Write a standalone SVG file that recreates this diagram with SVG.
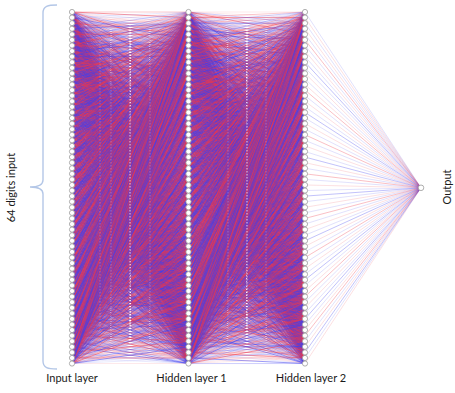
<svg xmlns="http://www.w3.org/2000/svg" xmlns:xlink="http://www.w3.org/1999/xlink" width="455" height="393" viewBox="0 0 455 393">
<style>
.fan path,.c path{fill:none;stroke-width:.8;vector-effect:non-scaling-stroke;stroke-linecap:butt}
.rs{stroke:#ee3848;stroke-opacity:.66}
.bs{stroke:#4040ee;stroke-opacity:.66}
.rm{stroke:#ee3848;stroke-opacity:.33}
.bm{stroke:#4040ee;stroke-opacity:.33}
.rf{stroke:#ee3848;stroke-opacity:.14}
.bf{stroke:#4040ee;stroke-opacity:.14}
.ro{stroke:#ee3848;stroke-opacity:.4}
.bo{stroke:#4040ee;stroke-opacity:.4}
.rq{stroke:#ee3848;stroke-opacity:.2}
.bq{stroke:#4040ee;stroke-opacity:.2}
.n circle{fill:#fff;stroke:#9a9a9a;stroke-width:.8}
.art line{stroke:#fff;stroke-width:1;stroke-dasharray:1.5 1.5}
text{font-family:Lato,"Open Sans","Liberation Sans",sans-serif;font-size:11px;fill:#1a1a1a}
</style>
<defs>
<g id="f0" class="fan">
<path class="rf" d="M0 0L1 39M0 0L1 4M0 0L1 33M0 0L1 62M0 0L1 27M0 0L1 56M0 0L1 21M0 0L1 50M0 0L1 15M0 0L1 44M0 0L1 9M0 0L1 38M0 0L1 3M0 0L1 32M0 0L1 61M0 0L1 26"/>
<path class="bf" d="M0 0L1 55M0 0L1 20M0 0L1 49M0 0L1 14M0 0L1 43M0 0L1 8M0 0L1 37M0 0L1 2M0 0L1 31M0 0L1 60M0 0L1 25M0 0L1 54M0 0L1 19M0 0L1 48M0 0L1 13M0 0L1 42"/>
<path class="rm" d="M0 0L1 41M0 0L1 6M0 0L1 35M0 0L1 0M0 0L1 29M0 0L1 58M0 0L1 23M0 0L1 52M0 0L1 17M0 0L1 46M0 0L1 11"/>
<path class="bm" d="M0 0L1 40M0 0L1 5M0 0L1 34M0 0L1 63M0 0L1 28M0 0L1 57M0 0L1 22M0 0L1 51M0 0L1 16M0 0L1 45M0 0L1 10"/>
<path class="rs" d="M0 0L1 7M0 0L1 36M0 0L1 1M0 0L1 30M0 0L1 59"/>
<path class="bs" d="M0 0L1 24M0 0L1 53M0 0L1 18M0 0L1 47M0 0L1 12"/>
</g>
<g id="f1" class="fan">
<path class="rf" d="M0 0L1 55M0 0L1 20M0 0L1 49M0 0L1 14M0 0L1 43M0 0L1 8M0 0L1 37M0 0L1 2M0 0L1 31M0 0L1 60M0 0L1 25M0 0L1 54M0 0L1 19M0 0L1 48M0 0L1 13M0 0L1 42"/>
<path class="bf" d="M0 0L1 7M0 0L1 36M0 0L1 1M0 0L1 30M0 0L1 59M0 0L1 24M0 0L1 53M0 0L1 18M0 0L1 47M0 0L1 12M0 0L1 41M0 0L1 6M0 0L1 35M0 0L1 0M0 0L1 29M0 0L1 58"/>
<path class="rm" d="M0 0L1 57M0 0L1 22M0 0L1 51M0 0L1 16M0 0L1 45M0 0L1 10M0 0L1 39M0 0L1 4M0 0L1 33M0 0L1 62M0 0L1 27"/>
<path class="bm" d="M0 0L1 56M0 0L1 21M0 0L1 50M0 0L1 15M0 0L1 44M0 0L1 9M0 0L1 38M0 0L1 3M0 0L1 32M0 0L1 61M0 0L1 26"/>
<path class="rs" d="M0 0L1 23M0 0L1 52M0 0L1 17M0 0L1 46M0 0L1 11"/>
<path class="bs" d="M0 0L1 40M0 0L1 5M0 0L1 34M0 0L1 63M0 0L1 28"/>
</g>
<g id="f2" class="fan">
<path class="rf" d="M0 0L1 7M0 0L1 36M0 0L1 1M0 0L1 30M0 0L1 59M0 0L1 24M0 0L1 53M0 0L1 18M0 0L1 47M0 0L1 12M0 0L1 41M0 0L1 6M0 0L1 35M0 0L1 0M0 0L1 29M0 0L1 58"/>
<path class="bf" d="M0 0L1 23M0 0L1 52M0 0L1 17M0 0L1 46M0 0L1 11M0 0L1 40M0 0L1 5M0 0L1 34M0 0L1 63M0 0L1 28M0 0L1 57M0 0L1 22M0 0L1 51M0 0L1 16M0 0L1 45M0 0L1 10"/>
<path class="rm" d="M0 0L1 9M0 0L1 38M0 0L1 3M0 0L1 32M0 0L1 61M0 0L1 26M0 0L1 55M0 0L1 20M0 0L1 49M0 0L1 14M0 0L1 43"/>
<path class="bm" d="M0 0L1 8M0 0L1 37M0 0L1 2M0 0L1 31M0 0L1 60M0 0L1 25M0 0L1 54M0 0L1 19M0 0L1 48M0 0L1 13M0 0L1 42"/>
<path class="rs" d="M0 0L1 39M0 0L1 4M0 0L1 33M0 0L1 62M0 0L1 27"/>
<path class="bs" d="M0 0L1 56M0 0L1 21M0 0L1 50M0 0L1 15M0 0L1 44"/>
</g>
<g id="f3" class="fan">
<path class="rf" d="M0 0L1 23M0 0L1 52M0 0L1 17M0 0L1 46M0 0L1 11M0 0L1 40M0 0L1 5M0 0L1 34M0 0L1 63M0 0L1 28M0 0L1 57M0 0L1 22M0 0L1 51M0 0L1 16M0 0L1 45M0 0L1 10"/>
<path class="bf" d="M0 0L1 39M0 0L1 4M0 0L1 33M0 0L1 62M0 0L1 27M0 0L1 56M0 0L1 21M0 0L1 50M0 0L1 15M0 0L1 44M0 0L1 9M0 0L1 38M0 0L1 3M0 0L1 32M0 0L1 61M0 0L1 26"/>
<path class="rm" d="M0 0L1 25M0 0L1 54M0 0L1 19M0 0L1 48M0 0L1 13M0 0L1 42M0 0L1 7M0 0L1 36M0 0L1 1M0 0L1 30M0 0L1 59"/>
<path class="bm" d="M0 0L1 24M0 0L1 53M0 0L1 18M0 0L1 47M0 0L1 12M0 0L1 41M0 0L1 6M0 0L1 35M0 0L1 0M0 0L1 29M0 0L1 58"/>
<path class="rs" d="M0 0L1 55M0 0L1 20M0 0L1 49M0 0L1 14M0 0L1 43"/>
<path class="bs" d="M0 0L1 8M0 0L1 37M0 0L1 2M0 0L1 31M0 0L1 60"/>
</g>
</defs>

<g id="connectors" class="c">
<g id="input-to-hidden1" transform="translate(72 12) scale(116.5 5.58)">
<use href="#f0"/>
<use href="#f1" transform="matrix(1 -1 0 1 0 1)"/>
<use href="#f2" transform="matrix(1 -2 0 1 0 2)"/>
<use href="#f3" transform="matrix(1 -3 0 1 0 3)"/>
<use href="#f2" transform="matrix(1 -4 0 1 0 4)"/>
<use href="#f3" transform="matrix(1 -5 0 1 0 5)"/>
<use href="#f0" transform="matrix(1 -6 0 1 0 6)"/>
<use href="#f1" transform="matrix(1 -7 0 1 0 7)"/>
<use href="#f3" transform="matrix(1 -8 0 1 0 8)"/>
<use href="#f1" transform="matrix(1 -9 0 1 0 9)"/>
<use href="#f0" transform="matrix(1 -10 0 1 0 10)"/>
<use href="#f2" transform="matrix(1 -11 0 1 0 11)"/>
<use href="#f1" transform="matrix(1 -12 0 1 0 12)"/>
<use href="#f3" transform="matrix(1 -13 0 1 0 13)"/>
<use href="#f2" transform="matrix(1 -14 0 1 0 14)"/>
<use href="#f0" transform="matrix(1 -15 0 1 0 15)"/>
<use href="#f2" transform="matrix(1 -16 0 1 0 16)"/>
<use href="#f0" transform="matrix(1 -17 0 1 0 17)"/>
<use href="#f1" transform="matrix(1 -18 0 1 0 18)"/>
<use href="#f3" transform="matrix(1 -19 0 1 0 19)"/>
<use href="#f0" transform="matrix(1 -20 0 1 0 20)"/>
<use href="#f2" transform="matrix(1 -21 0 1 0 21)"/>
<use href="#f3" transform="matrix(1 -22 0 1 0 22)"/>
<use href="#f1" transform="matrix(1 -23 0 1 0 23)"/>
<use href="#f1" transform="matrix(1 -24 0 1 0 24)"/>
<use href="#f0" transform="matrix(1 -25 0 1 0 25)"/>
<use href="#f3" transform="matrix(1 -26 0 1 0 26)"/>
<use href="#f2" transform="matrix(1 -27 0 1 0 27)"/>
<use href="#f3" transform="matrix(1 -28 0 1 0 28)"/>
<use href="#f2" transform="matrix(1 -29 0 1 0 29)"/>
<use href="#f1" transform="matrix(1 -30 0 1 0 30)"/>
<use href="#f0" transform="matrix(1 -31 0 1 0 31)"/>
<use href="#f0" transform="matrix(1 -32 0 1 0 32)"/>
<use href="#f3" transform="matrix(1 -33 0 1 0 33)"/>
<use href="#f1" transform="matrix(1 -34 0 1 0 34)"/>
<use href="#f2" transform="matrix(1 -35 0 1 0 35)"/>
<use href="#f2" transform="matrix(1 -36 0 1 0 36)"/>
<use href="#f1" transform="matrix(1 -37 0 1 0 37)"/>
<use href="#f3" transform="matrix(1 -38 0 1 0 38)"/>
<use href="#f0" transform="matrix(1 -39 0 1 0 39)"/>
<use href="#f1" transform="matrix(1 -40 0 1 0 40)"/>
<use href="#f2" transform="matrix(1 -41 0 1 0 41)"/>
<use href="#f0" transform="matrix(1 -42 0 1 0 42)"/>
<use href="#f3" transform="matrix(1 -43 0 1 0 43)"/>
<use href="#f3" transform="matrix(1 -44 0 1 0 44)"/>
<use href="#f0" transform="matrix(1 -45 0 1 0 45)"/>
<use href="#f2" transform="matrix(1 -46 0 1 0 46)"/>
<use href="#f1" transform="matrix(1 -47 0 1 0 47)"/>
<use href="#f2" transform="matrix(1 -48 0 1 0 48)"/>
<use href="#f3" transform="matrix(1 -49 0 1 0 49)"/>
<use href="#f1" transform="matrix(1 -50 0 1 0 50)"/>
<use href="#f0" transform="matrix(1 -51 0 1 0 51)"/>
<use href="#f0" transform="matrix(1 -52 0 1 0 52)"/>
<use href="#f1" transform="matrix(1 -53 0 1 0 53)"/>
<use href="#f3" transform="matrix(1 -54 0 1 0 54)"/>
<use href="#f2" transform="matrix(1 -55 0 1 0 55)"/>
<use href="#f3" transform="matrix(1 -56 0 1 0 56)"/>
<use href="#f2" transform="matrix(1 -57 0 1 0 57)"/>
<use href="#f0" transform="matrix(1 -58 0 1 0 58)"/>
<use href="#f1" transform="matrix(1 -59 0 1 0 59)"/>
<use href="#f1" transform="matrix(1 -60 0 1 0 60)"/>
<use href="#f0" transform="matrix(1 -61 0 1 0 61)"/>
<use href="#f2" transform="matrix(1 -62 0 1 0 62)"/>
<use href="#f3" transform="matrix(1 -63 0 1 0 63)"/>
</g>
<g id="hidden1-to-hidden2" transform="translate(188.5 12) scale(116.5 5.58)">
<use href="#f2"/>
<use href="#f0" transform="matrix(1 -1 0 1 0 1)"/>
<use href="#f3" transform="matrix(1 -2 0 1 0 2)"/>
<use href="#f1" transform="matrix(1 -3 0 1 0 3)"/>
<use href="#f1" transform="matrix(1 -4 0 1 0 4)"/>
<use href="#f3" transform="matrix(1 -5 0 1 0 5)"/>
<use href="#f0" transform="matrix(1 -6 0 1 0 6)"/>
<use href="#f2" transform="matrix(1 -7 0 1 0 7)"/>
<use href="#f0" transform="matrix(1 -8 0 1 0 8)"/>
<use href="#f2" transform="matrix(1 -9 0 1 0 9)"/>
<use href="#f1" transform="matrix(1 -10 0 1 0 10)"/>
<use href="#f3" transform="matrix(1 -11 0 1 0 11)"/>
<use href="#f3" transform="matrix(1 -12 0 1 0 12)"/>
<use href="#f1" transform="matrix(1 -13 0 1 0 13)"/>
<use href="#f2" transform="matrix(1 -14 0 1 0 14)"/>
<use href="#f0" transform="matrix(1 -15 0 1 0 15)"/>
<use href="#f1" transform="matrix(1 -16 0 1 0 16)"/>
<use href="#f2" transform="matrix(1 -17 0 1 0 17)"/>
<use href="#f3" transform="matrix(1 -18 0 1 0 18)"/>
<use href="#f0" transform="matrix(1 -19 0 1 0 19)"/>
<use href="#f2" transform="matrix(1 -20 0 1 0 20)"/>
<use href="#f1" transform="matrix(1 -21 0 1 0 21)"/>
<use href="#f0" transform="matrix(1 -22 0 1 0 22)"/>
<use href="#f3" transform="matrix(1 -23 0 1 0 23)"/>
<use href="#f3" transform="matrix(1 -24 0 1 0 24)"/>
<use href="#f0" transform="matrix(1 -25 0 1 0 25)"/>
<use href="#f1" transform="matrix(1 -26 0 1 0 26)"/>
<use href="#f2" transform="matrix(1 -27 0 1 0 27)"/>
<use href="#f0" transform="matrix(1 -28 0 1 0 28)"/>
<use href="#f3" transform="matrix(1 -29 0 1 0 29)"/>
<use href="#f2" transform="matrix(1 -30 0 1 0 30)"/>
<use href="#f1" transform="matrix(1 -31 0 1 0 31)"/>
<use href="#f2" transform="matrix(1 -32 0 1 0 32)"/>
<use href="#f3" transform="matrix(1 -33 0 1 0 33)"/>
<use href="#f0" transform="matrix(1 -34 0 1 0 34)"/>
<use href="#f1" transform="matrix(1 -35 0 1 0 35)"/>
<use href="#f1" transform="matrix(1 -36 0 1 0 36)"/>
<use href="#f0" transform="matrix(1 -37 0 1 0 37)"/>
<use href="#f3" transform="matrix(1 -38 0 1 0 38)"/>
<use href="#f2" transform="matrix(1 -39 0 1 0 39)"/>
<use href="#f3" transform="matrix(1 -40 0 1 0 40)"/>
<use href="#f1" transform="matrix(1 -41 0 1 0 41)"/>
<use href="#f2" transform="matrix(1 -42 0 1 0 42)"/>
<use href="#f0" transform="matrix(1 -43 0 1 0 43)"/>
<use href="#f0" transform="matrix(1 -44 0 1 0 44)"/>
<use href="#f2" transform="matrix(1 -45 0 1 0 45)"/>
<use href="#f1" transform="matrix(1 -46 0 1 0 46)"/>
<use href="#f3" transform="matrix(1 -47 0 1 0 47)"/>
<use href="#f1" transform="matrix(1 -48 0 1 0 48)"/>
<use href="#f3" transform="matrix(1 -49 0 1 0 49)"/>
<use href="#f0" transform="matrix(1 -50 0 1 0 50)"/>
<use href="#f2" transform="matrix(1 -51 0 1 0 51)"/>
<use href="#f2" transform="matrix(1 -52 0 1 0 52)"/>
<use href="#f0" transform="matrix(1 -53 0 1 0 53)"/>
<use href="#f3" transform="matrix(1 -54 0 1 0 54)"/>
<use href="#f1" transform="matrix(1 -55 0 1 0 55)"/>
<use href="#f0" transform="matrix(1 -56 0 1 0 56)"/>
<use href="#f1" transform="matrix(1 -57 0 1 0 57)"/>
<use href="#f2" transform="matrix(1 -58 0 1 0 58)"/>
<use href="#f3" transform="matrix(1 -59 0 1 0 59)"/>
<use href="#f3" transform="matrix(1 -60 0 1 0 60)"/>
<use href="#f2" transform="matrix(1 -61 0 1 0 61)"/>
<use href="#f1" transform="matrix(1 -62 0 1 0 62)"/>
<use href="#f0" transform="matrix(1 -63 0 1 0 63)"/>
</g>
<g id="hidden2-to-output" transform="translate(305 12) scale(116 5.58)">
<path class="bq" d="M0 0L1 31.5M0 2L1 31.5M0 4L1 31.5M0 6L1 31.5M0 8L1 31.5M0 10L1 31.5M0 12L1 31.5M0 15L1 31.5M0 17L1 31.5M0 19L1 31.5M0 21L1 31.5M0 23L1 31.5M0 25L1 31.5M0 28L1 31.5M0 30L1 31.5M0 32L1 31.5M0 34L1 31.5M0 36L1 31.5M0 38L1 31.5M0 40L1 31.5M0 43L1 31.5M0 45L1 31.5M0 47L1 31.5M0 49L1 31.5M0 52L1 31.5M0 54L1 31.5M0 56L1 31.5M0 59L1 31.5M0 62L1 31.5"/>
<path class="rq" d="M0 1L1 31.5M0 3L1 31.5M0 7L1 31.5M0 11L1 31.5M0 13L1 31.5M0 16L1 31.5M0 20L1 31.5M0 24L1 31.5M0 27L1 31.5M0 31L1 31.5M0 35L1 31.5M0 39L1 31.5M0 42L1 31.5M0 46L1 31.5M0 50L1 31.5M0 53L1 31.5M0 57L1 31.5M0 60L1 31.5M0 63L1 31.5"/>
<path class="ro" d="M0 5L1 31.5M0 14L1 31.5M0 22L1 31.5M0 29L1 31.5M0 37L1 31.5M0 44L1 31.5M0 51L1 31.5M0 58L1 31.5"/>
<path class="bo" d="M0 9L1 31.5M0 18L1 31.5M0 26L1 31.5M0 33L1 31.5M0 41L1 31.5M0 48L1 31.5M0 55L1 31.5M0 61L1 31.5"/>
</g>
</g>

<g class="art" id="artifacts">
<line x1="130" y1="24" x2="130" y2="345" stroke-opacity=".75"/>
<line x1="100" y1="40" x2="100" y2="330" stroke-opacity=".22"/>
<line x1="111" y1="30" x2="111" y2="340" stroke-opacity=".25"/>
<line x1="150" y1="30" x2="150" y2="340" stroke-opacity=".25"/>
<line x1="247" y1="24" x2="247" y2="345" stroke-opacity=".75"/>
<line x1="228" y1="30" x2="228" y2="340" stroke-opacity=".25"/>
<line x1="266" y1="30" x2="266" y2="340" stroke-opacity=".25"/>
</g>

<path id="brace" d="M57 5C48 5 43 6 43 13V180C43 185 39 187 30 187C39 187 43 189 43 194V361C43 368 48 369 57 369" fill="none" stroke="#b4c7e7" stroke-width="1.4"/>

<g id="input-layer" class="n" transform="translate(72 0)">
<circle id="in0" cy="12" r="2.6"/><circle id="in1" cy="17.58" r="2.6"/><circle id="in2" cy="23.16" r="2.6"/><circle id="in3" cy="28.74" r="2.6"/><circle id="in4" cy="34.32" r="2.6"/><circle id="in5" cy="39.9" r="2.6"/><circle id="in6" cy="45.48" r="2.6"/><circle id="in7" cy="51.06" r="2.6"/><circle id="in8" cy="56.64" r="2.6"/><circle id="in9" cy="62.22" r="2.6"/><circle id="in10" cy="67.8" r="2.6"/><circle id="in11" cy="73.38" r="2.6"/><circle id="in12" cy="78.96" r="2.6"/><circle id="in13" cy="84.54" r="2.6"/><circle id="in14" cy="90.12" r="2.6"/><circle id="in15" cy="95.7" r="2.6"/><circle id="in16" cy="101.28" r="2.6"/><circle id="in17" cy="106.86" r="2.6"/><circle id="in18" cy="112.44" r="2.6"/><circle id="in19" cy="118.02" r="2.6"/><circle id="in20" cy="123.6" r="2.6"/><circle id="in21" cy="129.18" r="2.6"/><circle id="in22" cy="134.76" r="2.6"/><circle id="in23" cy="140.34" r="2.6"/><circle id="in24" cy="145.92" r="2.6"/><circle id="in25" cy="151.5" r="2.6"/><circle id="in26" cy="157.08" r="2.6"/><circle id="in27" cy="162.66" r="2.6"/><circle id="in28" cy="168.24" r="2.6"/><circle id="in29" cy="173.82" r="2.6"/><circle id="in30" cy="179.4" r="2.6"/><circle id="in31" cy="184.98" r="2.6"/><circle id="in32" cy="190.56" r="2.6"/><circle id="in33" cy="196.14" r="2.6"/><circle id="in34" cy="201.72" r="2.6"/><circle id="in35" cy="207.3" r="2.6"/><circle id="in36" cy="212.88" r="2.6"/><circle id="in37" cy="218.46" r="2.6"/><circle id="in38" cy="224.04" r="2.6"/><circle id="in39" cy="229.62" r="2.6"/><circle id="in40" cy="235.2" r="2.6"/><circle id="in41" cy="240.78" r="2.6"/><circle id="in42" cy="246.36" r="2.6"/><circle id="in43" cy="251.94" r="2.6"/><circle id="in44" cy="257.52" r="2.6"/><circle id="in45" cy="263.1" r="2.6"/><circle id="in46" cy="268.68" r="2.6"/><circle id="in47" cy="274.26" r="2.6"/><circle id="in48" cy="279.84" r="2.6"/><circle id="in49" cy="285.42" r="2.6"/><circle id="in50" cy="291" r="2.6"/><circle id="in51" cy="296.58" r="2.6"/><circle id="in52" cy="302.16" r="2.6"/><circle id="in53" cy="307.74" r="2.6"/><circle id="in54" cy="313.32" r="2.6"/><circle id="in55" cy="318.9" r="2.6"/><circle id="in56" cy="324.48" r="2.6"/><circle id="in57" cy="330.06" r="2.6"/><circle id="in58" cy="335.64" r="2.6"/><circle id="in59" cy="341.22" r="2.6"/><circle id="in60" cy="346.8" r="2.6"/><circle id="in61" cy="352.38" r="2.6"/><circle id="in62" cy="357.96" r="2.6"/><circle id="in63" cy="363.54" r="2.6"/>
</g>
<g id="hidden-layer-1" class="n" transform="translate(188.5 0)">
<circle id="ha0" cy="12" r="2.6"/><circle id="ha1" cy="17.58" r="2.6"/><circle id="ha2" cy="23.16" r="2.6"/><circle id="ha3" cy="28.74" r="2.6"/><circle id="ha4" cy="34.32" r="2.6"/><circle id="ha5" cy="39.9" r="2.6"/><circle id="ha6" cy="45.48" r="2.6"/><circle id="ha7" cy="51.06" r="2.6"/><circle id="ha8" cy="56.64" r="2.6"/><circle id="ha9" cy="62.22" r="2.6"/><circle id="ha10" cy="67.8" r="2.6"/><circle id="ha11" cy="73.38" r="2.6"/><circle id="ha12" cy="78.96" r="2.6"/><circle id="ha13" cy="84.54" r="2.6"/><circle id="ha14" cy="90.12" r="2.6"/><circle id="ha15" cy="95.7" r="2.6"/><circle id="ha16" cy="101.28" r="2.6"/><circle id="ha17" cy="106.86" r="2.6"/><circle id="ha18" cy="112.44" r="2.6"/><circle id="ha19" cy="118.02" r="2.6"/><circle id="ha20" cy="123.6" r="2.6"/><circle id="ha21" cy="129.18" r="2.6"/><circle id="ha22" cy="134.76" r="2.6"/><circle id="ha23" cy="140.34" r="2.6"/><circle id="ha24" cy="145.92" r="2.6"/><circle id="ha25" cy="151.5" r="2.6"/><circle id="ha26" cy="157.08" r="2.6"/><circle id="ha27" cy="162.66" r="2.6"/><circle id="ha28" cy="168.24" r="2.6"/><circle id="ha29" cy="173.82" r="2.6"/><circle id="ha30" cy="179.4" r="2.6"/><circle id="ha31" cy="184.98" r="2.6"/><circle id="ha32" cy="190.56" r="2.6"/><circle id="ha33" cy="196.14" r="2.6"/><circle id="ha34" cy="201.72" r="2.6"/><circle id="ha35" cy="207.3" r="2.6"/><circle id="ha36" cy="212.88" r="2.6"/><circle id="ha37" cy="218.46" r="2.6"/><circle id="ha38" cy="224.04" r="2.6"/><circle id="ha39" cy="229.62" r="2.6"/><circle id="ha40" cy="235.2" r="2.6"/><circle id="ha41" cy="240.78" r="2.6"/><circle id="ha42" cy="246.36" r="2.6"/><circle id="ha43" cy="251.94" r="2.6"/><circle id="ha44" cy="257.52" r="2.6"/><circle id="ha45" cy="263.1" r="2.6"/><circle id="ha46" cy="268.68" r="2.6"/><circle id="ha47" cy="274.26" r="2.6"/><circle id="ha48" cy="279.84" r="2.6"/><circle id="ha49" cy="285.42" r="2.6"/><circle id="ha50" cy="291" r="2.6"/><circle id="ha51" cy="296.58" r="2.6"/><circle id="ha52" cy="302.16" r="2.6"/><circle id="ha53" cy="307.74" r="2.6"/><circle id="ha54" cy="313.32" r="2.6"/><circle id="ha55" cy="318.9" r="2.6"/><circle id="ha56" cy="324.48" r="2.6"/><circle id="ha57" cy="330.06" r="2.6"/><circle id="ha58" cy="335.64" r="2.6"/><circle id="ha59" cy="341.22" r="2.6"/><circle id="ha60" cy="346.8" r="2.6"/><circle id="ha61" cy="352.38" r="2.6"/><circle id="ha62" cy="357.96" r="2.6"/><circle id="ha63" cy="363.54" r="2.6"/>
</g>
<g id="hidden-layer-2" class="n" transform="translate(305 0)">
<circle id="hb0" cy="12" r="2.6"/><circle id="hb1" cy="17.58" r="2.6"/><circle id="hb2" cy="23.16" r="2.6"/><circle id="hb3" cy="28.74" r="2.6"/><circle id="hb4" cy="34.32" r="2.6"/><circle id="hb5" cy="39.9" r="2.6"/><circle id="hb6" cy="45.48" r="2.6"/><circle id="hb7" cy="51.06" r="2.6"/><circle id="hb8" cy="56.64" r="2.6"/><circle id="hb9" cy="62.22" r="2.6"/><circle id="hb10" cy="67.8" r="2.6"/><circle id="hb11" cy="73.38" r="2.6"/><circle id="hb12" cy="78.96" r="2.6"/><circle id="hb13" cy="84.54" r="2.6"/><circle id="hb14" cy="90.12" r="2.6"/><circle id="hb15" cy="95.7" r="2.6"/><circle id="hb16" cy="101.28" r="2.6"/><circle id="hb17" cy="106.86" r="2.6"/><circle id="hb18" cy="112.44" r="2.6"/><circle id="hb19" cy="118.02" r="2.6"/><circle id="hb20" cy="123.6" r="2.6"/><circle id="hb21" cy="129.18" r="2.6"/><circle id="hb22" cy="134.76" r="2.6"/><circle id="hb23" cy="140.34" r="2.6"/><circle id="hb24" cy="145.92" r="2.6"/><circle id="hb25" cy="151.5" r="2.6"/><circle id="hb26" cy="157.08" r="2.6"/><circle id="hb27" cy="162.66" r="2.6"/><circle id="hb28" cy="168.24" r="2.6"/><circle id="hb29" cy="173.82" r="2.6"/><circle id="hb30" cy="179.4" r="2.6"/><circle id="hb31" cy="184.98" r="2.6"/><circle id="hb32" cy="190.56" r="2.6"/><circle id="hb33" cy="196.14" r="2.6"/><circle id="hb34" cy="201.72" r="2.6"/><circle id="hb35" cy="207.3" r="2.6"/><circle id="hb36" cy="212.88" r="2.6"/><circle id="hb37" cy="218.46" r="2.6"/><circle id="hb38" cy="224.04" r="2.6"/><circle id="hb39" cy="229.62" r="2.6"/><circle id="hb40" cy="235.2" r="2.6"/><circle id="hb41" cy="240.78" r="2.6"/><circle id="hb42" cy="246.36" r="2.6"/><circle id="hb43" cy="251.94" r="2.6"/><circle id="hb44" cy="257.52" r="2.6"/><circle id="hb45" cy="263.1" r="2.6"/><circle id="hb46" cy="268.68" r="2.6"/><circle id="hb47" cy="274.26" r="2.6"/><circle id="hb48" cy="279.84" r="2.6"/><circle id="hb49" cy="285.42" r="2.6"/><circle id="hb50" cy="291" r="2.6"/><circle id="hb51" cy="296.58" r="2.6"/><circle id="hb52" cy="302.16" r="2.6"/><circle id="hb53" cy="307.74" r="2.6"/><circle id="hb54" cy="313.32" r="2.6"/><circle id="hb55" cy="318.9" r="2.6"/><circle id="hb56" cy="324.48" r="2.6"/><circle id="hb57" cy="330.06" r="2.6"/><circle id="hb58" cy="335.64" r="2.6"/><circle id="hb59" cy="341.22" r="2.6"/><circle id="hb60" cy="346.8" r="2.6"/><circle id="hb61" cy="352.38" r="2.6"/><circle id="hb62" cy="357.96" r="2.6"/><circle id="hb63" cy="363.54" r="2.6"/>
</g>
<g id="output" class="n"><circle cx="421" cy="187.8" r="2.8"/></g>

<g id="labels">
<text x="72" y="382" text-anchor="middle">Input layer</text>
<text x="191.5" y="382" text-anchor="middle">Hidden layer 1</text>
<text x="311" y="382" text-anchor="middle">Hidden layer 2</text>
<text transform="translate(15 187.5) rotate(-90)" text-anchor="middle">64 digits input</text>
<text transform="translate(450.5 187) rotate(-90)" text-anchor="middle">Output</text>
</g>
</svg>
